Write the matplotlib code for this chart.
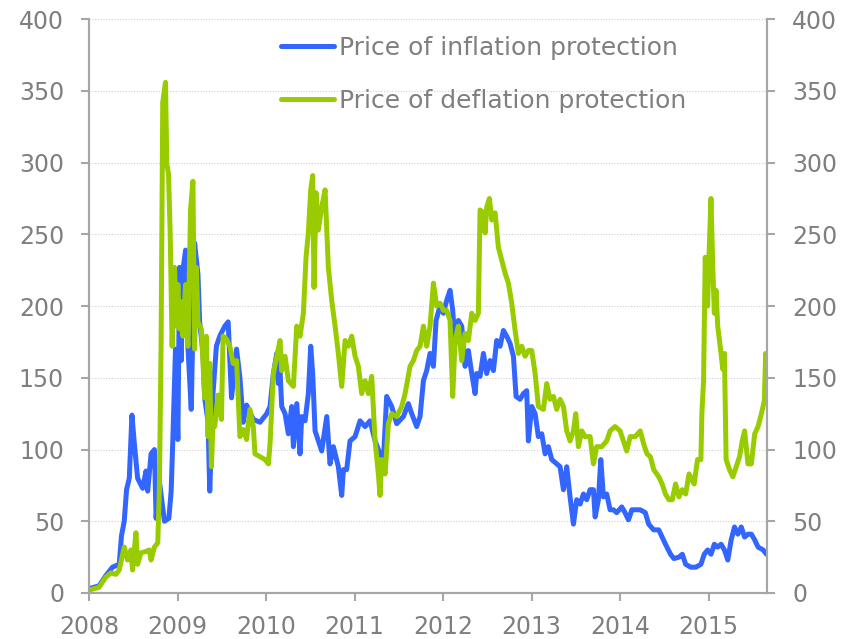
import matplotlib
matplotlib.use('Agg')
import matplotlib.pyplot as plt

# decimal-year positions and values
infl_x = [2008.000, 2008.114, 2008.189, 2008.265, 2008.341, 2008.367, 2008.398, 2008.424,
          2008.455, 2008.485, 2008.511, 2008.549, 2008.606, 2008.644, 2008.663, 2008.701,
          2008.739, 2008.758, 2008.795, 2008.852, 2008.902, 2008.928, 2008.947, 2008.977,
          2009.004, 2009.023, 2009.042, 2009.061, 2009.091, 2009.117, 2009.155, 2009.193,
          2009.231, 2009.250, 2009.288, 2009.307, 2009.345, 2009.364, 2009.402, 2009.439,
          2009.477, 2009.534, 2009.572, 2009.610, 2009.667, 2009.705, 2009.742, 2009.780,
          2009.856, 2009.932, 2010.008, 2010.045, 2010.083, 2010.121, 2010.139, 2010.158,
          2010.177, 2010.215, 2010.252, 2010.290, 2010.309, 2010.347, 2010.384, 2010.403,
          2010.441, 2010.478, 2010.505, 2010.527, 2010.554, 2010.591, 2010.629, 2010.686,
          2010.723, 2010.761, 2010.817, 2010.855, 2010.874, 2010.911, 2010.949, 2011.006,
          2011.062, 2011.119, 2011.175, 2011.232, 2011.288, 2011.326, 2011.363, 2011.420,
          2011.476, 2011.552, 2011.608, 2011.646, 2011.702, 2011.740, 2011.778, 2011.815,
          2011.853, 2011.891, 2011.921, 2011.966, 2012.004, 2012.041, 2012.079, 2012.109,
          2012.136, 2012.173, 2012.211, 2012.249, 2012.286, 2012.324, 2012.362, 2012.380,
          2012.418, 2012.456, 2012.493, 2012.531, 2012.569, 2012.606, 2012.644, 2012.682,
          2012.719, 2012.757, 2012.795, 2012.825, 2012.870, 2012.908, 2012.945, 2012.964,
          2013.002, 2013.040, 2013.077, 2013.115, 2013.153, 2013.190, 2013.228, 2013.284,
          2013.322, 2013.360, 2013.397, 2013.435, 2013.473, 2013.510, 2013.548, 2013.586,
          2013.623, 2013.661, 2013.699, 2013.718, 2013.755, 2013.782, 2013.812, 2013.849,
          2013.887, 2013.925, 2013.962, 2014.019, 2014.056, 2014.095, 2014.133, 2014.171,
          2014.228, 2014.285, 2014.323, 2014.380, 2014.437, 2014.475, 2014.513, 2014.570,
          2014.608, 2014.665, 2014.703, 2014.741, 2014.798, 2014.856, 2014.913, 2014.951,
          2014.989, 2015.027, 2015.065, 2015.103, 2015.141, 2015.179, 2015.217, 2015.255,
          2015.293, 2015.331, 2015.369, 2015.407, 2015.445, 2015.483, 2015.521, 2015.559,
          2015.616, 2015.655]
infl_y = [3, 5, 12, 18, 20, 40, 50, 72,
          80, 124, 105, 80, 73, 85, 71, 97,
          100, 52, 78, 50, 52, 71, 107, 170,
          107, 227, 162, 225, 239, 172, 128, 244,
          222, 189, 167, 136, 119, 71, 140, 172,
          179, 186, 189, 136, 170, 150, 119, 131,
          121, 119, 125, 130, 153, 167, 146, 155,
          130, 125, 111, 130, 102, 132, 97, 123,
          120, 139, 172, 153, 113, 106, 99, 123,
          90, 102, 88, 68, 86, 86, 106, 109,
          120, 116, 120, 106, 97, 93, 137, 130,
          118, 123, 132, 125, 116, 123, 148, 155,
          167, 158, 190, 200, 195, 204, 211, 197,
          174, 190, 186, 158, 169, 153, 139, 153,
          151, 167, 153, 162, 155, 176, 172, 183,
          179, 174, 165, 137, 135, 139, 141, 106,
          130, 125, 109, 111, 97, 102, 93, 90,
          88, 72, 88, 67, 48, 65, 62, 69,
          65, 72, 72, 53, 65, 93, 67, 69,
          58, 58, 56, 60, 56, 51, 58, 58,
          58, 56, 48, 44, 44, 39, 34, 27,
          24, 25, 27, 20, 18, 18, 20, 27,
          30, 27, 34, 32, 34, 30, 23, 37,
          46, 41, 46, 39, 41, 41, 37, 32,
          30, 27]

defl_x = [2008.000, 2008.114, 2008.189, 2008.246, 2008.303, 2008.341, 2008.398, 2008.436,
          2008.473, 2008.492, 2008.530, 2008.549, 2008.587, 2008.644, 2008.682, 2008.701,
          2008.739, 2008.777, 2008.795, 2008.814, 2008.833, 2008.864, 2008.879, 2008.898,
          2008.917, 2008.939, 2008.966, 2008.985, 2009.004, 2009.023, 2009.042, 2009.061,
          2009.091, 2009.117, 2009.148, 2009.174, 2009.193, 2009.212, 2009.231, 2009.269,
          2009.307, 2009.326, 2009.345, 2009.364, 2009.383, 2009.402, 2009.420, 2009.458,
          2009.496, 2009.515, 2009.553, 2009.591, 2009.629, 2009.667, 2009.705, 2009.742,
          2009.780, 2009.818, 2009.856, 2009.875, 2009.932, 2009.989, 2010.027, 2010.045,
          2010.083, 2010.121, 2010.158, 2010.177, 2010.215, 2010.252, 2010.309, 2010.347,
          2010.384, 2010.422, 2010.452, 2010.478, 2010.505, 2010.527, 2010.542, 2010.565,
          2010.591, 2010.629, 2010.667, 2010.704, 2010.742, 2010.780, 2010.817, 2010.855,
          2010.893, 2010.930, 2010.968, 2011.006, 2011.043, 2011.081, 2011.119, 2011.156,
          2011.194, 2011.232, 2011.269, 2011.288, 2011.307, 2011.345, 2011.382, 2011.420,
          2011.476, 2011.533, 2011.571, 2011.627, 2011.665, 2011.702, 2011.740, 2011.778,
          2011.815, 2011.853, 2011.891, 2011.928, 2011.966, 2012.004, 2012.041, 2012.079,
          2012.109, 2012.136, 2012.173, 2012.211, 2012.249, 2012.286, 2012.324, 2012.362,
          2012.399, 2012.418, 2012.456, 2012.475, 2012.493, 2012.524, 2012.550, 2012.588,
          2012.625, 2012.663, 2012.701, 2012.738, 2012.776, 2012.814, 2012.851, 2012.889,
          2012.927, 2012.964, 2013.002, 2013.040, 2013.077, 2013.134, 2013.171, 2013.209,
          2013.247, 2013.284, 2013.322, 2013.360, 2013.397, 2013.435, 2013.473, 2013.499,
          2013.529, 2013.567, 2013.604, 2013.661, 2013.699, 2013.736, 2013.793, 2013.849,
          2013.887, 2013.943, 2014.000, 2014.038, 2014.075, 2014.114, 2014.171, 2014.228,
          2014.266, 2014.304, 2014.342, 2014.380, 2014.437, 2014.475, 2014.513, 2014.551,
          2014.589, 2014.627, 2014.665, 2014.703, 2014.741, 2014.779, 2014.837, 2014.875,
          2014.913, 2014.924, 2014.943, 2014.962, 2014.989, 2015.008, 2015.027, 2015.046,
          2015.065, 2015.084, 2015.103, 2015.141, 2015.160, 2015.179, 2015.198, 2015.236,
          2015.274, 2015.312, 2015.350, 2015.380, 2015.407, 2015.445, 2015.483, 2015.521,
          2015.559, 2015.597, 2015.630, 2015.645, 2015.660]
defl_y = [2, 4, 11, 14, 13, 16, 32, 23,
          30, 16, 42, 20, 28, 29, 30, 23,
          32, 35, 73, 172, 342, 356, 299, 292,
          251, 172, 227, 186, 215, 184, 203, 179,
          215, 172, 268, 287, 170, 227, 189, 184,
          136, 179, 109, 160, 88, 121, 116, 138,
          121, 179, 177, 172, 160, 162, 109, 114,
          107, 128, 116, 97, 95, 93, 90, 104,
          153, 165, 176, 155, 165, 148, 144, 186,
          179, 195, 234, 251, 281, 291, 213, 279,
          253, 269, 281, 227, 204, 186, 167, 144,
          176, 172, 179, 165, 158, 139, 148, 139,
          151, 106, 83, 68, 93, 83, 118, 125,
          123, 130, 139, 158, 162, 169, 172, 186,
          172, 186, 216, 200, 202, 197, 197, 190,
          137, 176, 186, 162, 181, 176, 195, 190,
          195, 267, 265, 251, 269, 275, 260, 265,
          241, 232, 223, 216, 202, 183, 167, 172,
          165, 169, 169, 153, 130, 128, 146, 135,
          137, 128, 135, 130, 113, 106, 113, 125,
          102, 113, 109, 109, 90, 102, 102, 106,
          113, 116, 113, 106, 99, 109, 109, 113,
          104, 97, 95, 86, 81, 76, 69, 65,
          65, 76, 67, 72, 69, 83, 76, 93,
          93, 125, 148, 234, 200, 241, 275, 230,
          195, 211, 186, 167, 156, 167, 93, 86,
          81, 88, 95, 106, 113, 90, 90, 111,
          116, 125, 134, 167, 141]

years = [2008, 2009, 2010, 2011, 2012, 2013, 2014, 2015]
yticks = [0, 50, 100, 150, 200, 250, 300, 350, 400]

grey = '#7f7f7f'
axis_grey = '#a6a6a6'

fig = plt.figure(figsize=(8.51, 6.39), dpi=100)
ax = fig.add_axes([0.1046, 0.072, 0.7967, 0.898])

ax.plot(infl_x, infl_y, color='#3366ff', lw=3.6, label='Price of inflation protection',
        solid_joinstyle='round', solid_capstyle='round', zorder=3)
ax.plot(defl_x, defl_y, color='#99cc00', lw=3.6, label='Price of deflation protection',
        solid_joinstyle='round', solid_capstyle='round', zorder=4)

ax.set_xlim(2008, 2015.66)
ax.set_ylim(0, 400)
ax.set_xticks(years)
ax.set_xticklabels([str(y) for y in years])
ax.set_yticks(yticks)
ax.yaxis.grid(True, color='#d0d0d0', linestyle=(0, (1, 1.5)), linewidth=0.8)
ax.set_axisbelow(True)

ax2 = ax.twinx()
ax2.set_ylim(0, 400)
ax2.set_yticks(yticks)

for a in (ax, ax2):
    a.spines['top'].set_visible(False)
    for s in ('left', 'right', 'bottom'):
        a.spines[s].set_color(axis_grey)
        a.spines[s].set_linewidth(1.5)
    a.tick_params(colors=axis_grey, labelcolor=grey, labelsize=17, width=1.5, length=6,
                  direction='out', pad=12)
ax.tick_params(axis='x', pad=10)

leg = ax.legend(loc='upper left', bbox_to_anchor=(0.25, 1.01), frameon=False,
                fontsize=18, handlelength=2.1, handletextpad=0.2, labelspacing=1.15)
for t in leg.get_texts():
    t.set_color(grey)

fig.savefig('out.png', dpi=100)
